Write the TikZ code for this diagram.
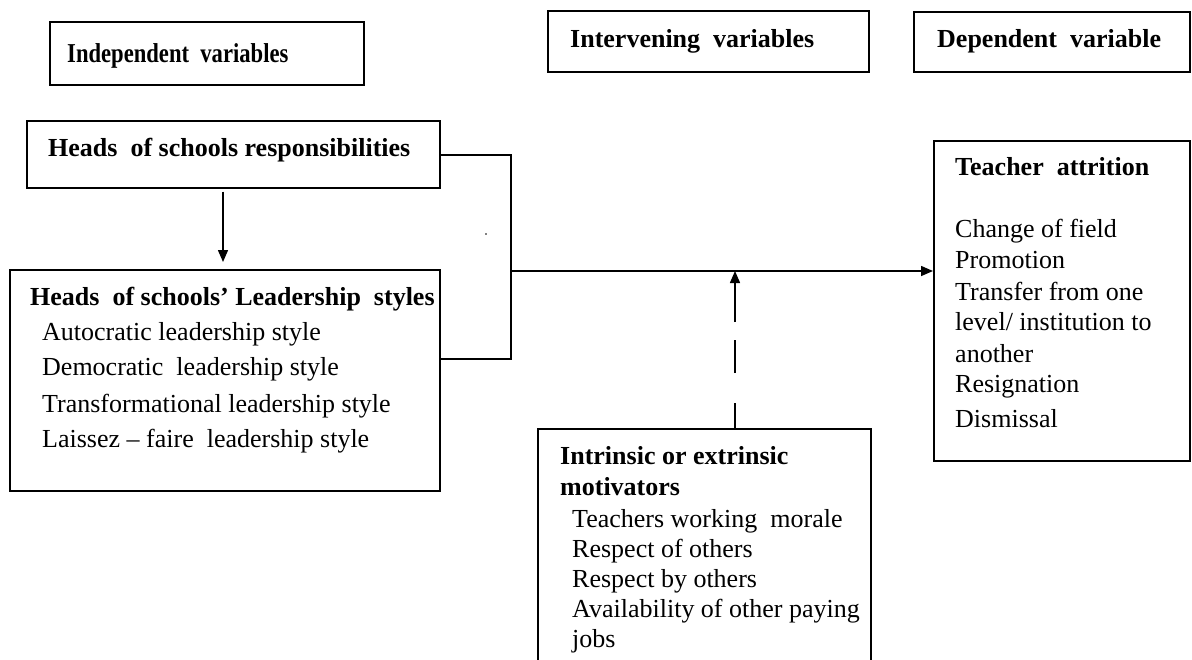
\documentclass[tikz,border=0pt]{standalone}
\usepackage{graphicx}
\usepackage{fontspec}
\setmainfont{Liberation Serif}
\usetikzlibrary{arrows.meta}
\begin{document}
\begin{tikzpicture}[x=1pt,y=-1pt,
  box/.style={draw,line width=1.5pt,inner sep=0pt,anchor=north west},
  txt/.style={anchor=base west,inner sep=0pt,font=\fontsize{26}{30}\selectfont},
  hd/.style={anchor=base west,inner sep=0pt,font=\fontsize{26}{30}\selectfont\bfseries},
  link/.style={line width=1.5pt},
  arr/.style={link,-{Triangle[length=12pt,width=10pt]}}]
\clip (0,0) rectangle (1192,659);
\fill[white] (0,0) rectangle (1192,659);

% column headings
\node[box,minimum width=314pt,minimum height=63pt] (indep) at (49,21) {};
\node[box,minimum width=321pt,minimum height=61pt] (interv) at (547,10) {};
\node[box,minimum width=276pt,minimum height=60pt] (dep) at (913,11) {};
\node[hd] (indepT) at (67,62) {\scalebox{0.87}[1.05]{Independent\ \ variables}};
\node[hd] (intervT) at (570,47) {Intervening\ \ variables};
\node[hd] (depT) at (937,47) {Dependent\ \ variable};

% content boxes
\node[box,minimum width=413pt,minimum height=67pt] (resp) at (26,120) {};
\node[box,minimum width=430pt,minimum height=221pt] (lead) at (9,269) {};
\node[box,minimum width=256pt,minimum height=320pt] (attr) at (933,140) {};
\node[box,minimum width=333pt,minimum height=260pt] (intr) at (537,428) {};

% texts of the boxes
\node[hd] (respT) at (48,156) {Heads\ \ of schools responsibilities};

\node[hd] (leadT) at (30,305) {Heads\ \ of schools’ Leadership\ \ styles};
\node[txt] (lead1) at (42,340) {Autocratic leadership style};
\node[txt] (lead2) at (42,375) {Democratic\ \ leadership style};
\node[txt] (lead3) at (42,412) {Transformational leadership style};
\node[txt] (lead4) at (42,447) {Laissez – faire\ \ leadership style};

\node[hd] (attrT) at (955,175) {Teacher\ \ attrition};
\node[txt] (attr1) at (955,237) {Change of field};
\node[txt] (attr2) at (955,268) {Promotion};
\node[txt] (attr3) at (955,300) {Transfer from one};
\node[txt] (attr4) at (955,330) {level/ institution to};
\node[txt] (attr5) at (955,362) {another};
\node[txt] (attr6) at (955,392) {Resignation};
\node[txt] (attr7) at (955,427) {Dismissal};

\node[hd] (intrT1) at (560,464) {Intrinsic or extrinsic};
\node[hd] (intrT2) at (560,495) {motivators};
\node[txt] (intr1) at (572,527) {Teachers working\ \ morale};
\node[txt] (intr2) at (572,557) {Respect of others};
\node[txt] (intr3) at (572,587) {Respect by others};
\node[txt] (intr4) at (572,617) {Availability of other paying};
\node[txt] (intr5) at (572,647) {jobs};

% connectors
\coordinate (tr) at (511,155);
\coordinate (br) at (511,359);
\coordinate (jn) at (511,271);
\coordinate (ax) at (223,0);
\coordinate (dx) at (735,0);
\draw[arr] ([yshift=-3pt]resp.south -| ax) -- ([yshift=7pt]lead.north -| ax);
\draw[link] (resp.east |- tr) -- (tr) -- (br) -- (lead.east |- br);
\draw[arr] (jn) -- (attr.west |- jn);
\draw[arr,dash pattern=on 25pt off 30pt on 33pt off 18pt on 80pt]
  (intr.north -| dx) -- (jn -| dx);

% stray full stop
\fill (486,234) circle (0.8pt);
\end{tikzpicture}
\end{document}
